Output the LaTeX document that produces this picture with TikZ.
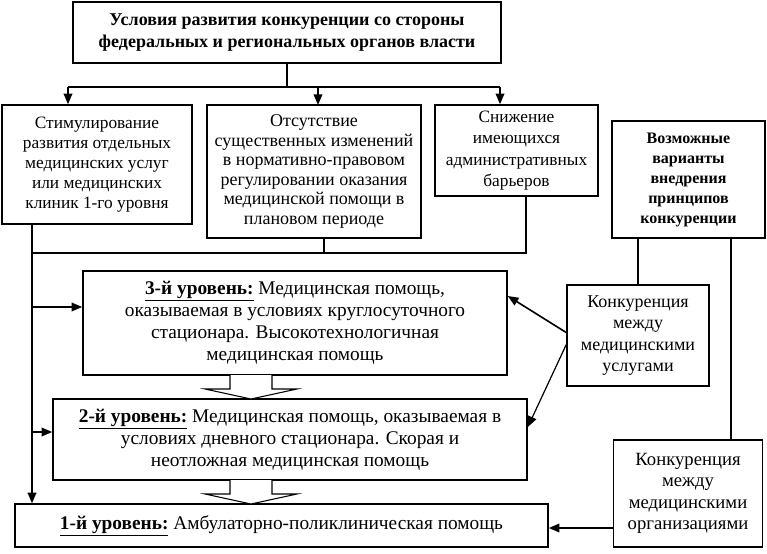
\documentclass[tikz,border=0pt]{standalone}
\usepackage{fontspec}
\setmainfont{Liberation Serif}
\usetikzlibrary{arrows.meta}
\begin{document}
\begin{tikzpicture}[x=0.75pt,y=-0.75pt,
  box/.style={draw, line width=1.2pt, align=center, inner sep=2pt, fill=white},
  btxt/.style={font=\fontsize{13}{15}\selectfont},
  ltxt/.style={font=\fontsize{14.5}{16.5}\selectfont},
  conn/.style={line width=1.2pt},
  thinline/.style={line width=0.8pt},
  arr/.style={-{Triangle[length=8pt,width=6.5pt]}, line width=1.2pt},
  hollow/.style={line width=0.8pt, fill=white}]
\useasboundingbox (0,0) rectangle (767,553);

\node[box, minimum width=321pt, minimum height=45.75pt, font=\bfseries\fontsize{13.5}{16.5}\selectfont] (top) at (287,32.5)
  {Условия развития конкуренции со стороны\\федеральных и региональных органов власти};
\node[box, btxt, minimum width=142.5pt, minimum height=89.25pt] (A) at (97,164.5)
  {Стимулирование\\развития отдельных\\медицинских услуг\\или медицинских\\клиник 1-го уровня};
\node[box, btxt, font=\fontsize{13.5}{14.7}\selectfont, minimum width=160.5pt, minimum height=99.75pt] (B) at (314,171.5)
  {Отсутствие\\существенных изменений\\в нормативно-правовом\\регулировании оказания\\медицинской помощи в\\плановом периоде};
\node[box, btxt, font=\fontsize{13}{16}\selectfont, minimum width=122.25pt, minimum height=68.25pt] (C) at (516.5,150.5)
  {Снижение\\имеющихся\\административных\\барьеров};
\node[box, font=\bfseries\fontsize{12}{15}\selectfont, minimum width=114.75pt, minimum height=87.75pt] (D) at (688.5,179.5)
  {Возможные\\варианты\\внедрения\\принципов\\конкуренции};
\node[box, ltxt, minimum width=318pt, minimum height=78pt] (L3) at (295,323)
  {\underline{\textbf{3-й уровень:}} Медицинская помощь,\\оказываемая в условиях круглосуточного\\стационара. Высокотехнологичная\\медицинская помощь};
\node[box, ltxt, minimum width=355.5pt, minimum height=60.75pt] (L2) at (290,439.5)
  {\underline{\textbf{2-й уровень:}} Медицинская помощь, оказываемая в\\условиях дневного стационара. Скорая и\\неотложная медицинская помощь};
\node[box, ltxt, minimum width=399.75pt, minimum height=32.25pt] (L1) at (281.5,525.5)
  {\underline{\textbf{1-й уровень:}} Амбулаторно-поликлиническая помощь};
\node[box, font=\fontsize{13.5}{16}\selectfont, minimum width=106.5pt, minimum height=75.75pt] (E) at (638,335.5)
  {Конкуренция\\между\\медицинскими\\услугами};
\node[box, font=\fontsize{14}{16}\selectfont, minimum width=111.75pt, minimum height=80.25pt] (F) at (688,493.5)
  {Конкуренция\\между\\медицинскими\\организациями};

% top distribution
\coordinate (h1) at (68,87);
\coordinate (h2) at (500,87);
\draw[conn] (top.south) -- (top.south |- h1);
\draw[conn] (h1) -- (h2);
\draw[arr] (h1) -- (h1 |- A.north);
\draw[arr] (318,87) -- (318,105);
\draw[arr] (h2) -- (h2 |- C.north);

% left collector
\coordinate (v) at (32,253);
\coordinate (h4) at (526,253);
\draw[arr] (A.south -| v) -- (v |- L1.north);
\draw[conn] (v) -- (h4) -- (h4 |- C.south);
\draw[thinline] (324,238) -- (324,253);
\draw[arr] (32,307) -- (L3.west |- 32,307);
\draw[arr] (32,432) -- (L2.west |- 32,432);

% hollow arrows
\draw[hollow] (230,375) -- (230,389) -- (205,389) -- (251,399) -- (297,389) -- (272,389) -- (272,375);
\draw[hollow] (230,480) -- (230,494) -- (205,494) -- (251,504) -- (297,494) -- (272,494) -- (272,480);

% right side
\draw[thinline] (E.north |- D.south) -- (E.north);
\draw[thinline] (731,238) -- (731,440);
\draw[arr] (567,333) -- (L3.east |- 567,296);
\draw[arr, line width=0.9pt] (567,343) -- (L2.east |- 567,427);
\draw[arr] (F.west |- 567,528) -- (L1.east |- 567,528);
\end{tikzpicture}
\end{document}
